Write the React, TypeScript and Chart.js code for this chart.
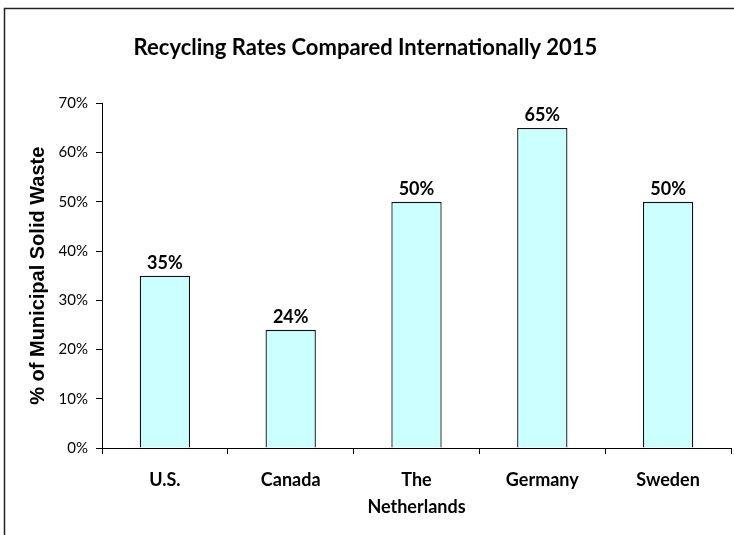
import React, { useEffect, useRef } from "react";
import { Chart, registerables } from "chart.js";

Chart.register(...registerables);

const chartTitle = "Recycling Rates Compared Internationally 2015";
const yAxisTitle = "% of Municipal Solid Waste";
const categories: (string | string[])[] = ["U.S.", "Canada", ["The", "Netherlands"], "Germany", "Sweden"];
const recyclingRates = [35, 24, 50, 65, 50];
const yMin = 0;
const yMax = 70;
const yStep = 10;

const framePlugin = {
  id: "frame",
  beforeDraw(chart: any) {
    const ctx = chart.ctx;
    ctx.save();
    ctx.fillStyle = "#ffffff";
    ctx.fillRect(0, 0, chart.width, chart.height);
    ctx.strokeStyle = "#222222";
    ctx.lineWidth = 1.5;
    ctx.strokeRect(4.5, 8.5, chart.width + 20, chart.height + 20);
    ctx.restore();
  },
};

const valueLabelPlugin = {
  id: "valueLabels",
  afterDatasetsDraw(chart: any) {
    const ctx = chart.ctx;
    const meta = chart.getDatasetMeta(0);
    const data = chart.data.datasets[0].data as number[];
    ctx.save();
    ctx.font = "bold 18px Lato";
    ctx.fillStyle = "#000000";
    ctx.textAlign = "center";
    ctx.textBaseline = "bottom";
    meta.data.forEach((bar: any, i: number) => {
      ctx.fillText(`${data[i]}%`, bar.x, bar.y - 4);
    });
    ctx.restore();
  },
};

export default function App() {
  const canvasRef = useRef<HTMLCanvasElement | null>(null);

  useEffect(() => {
    if (!canvasRef.current) return;
    const chart = new Chart(canvasRef.current, {
      type: "bar",
      data: {
        labels: categories as any,
        datasets: [
          {
            data: recyclingRates,
            backgroundColor: "#CCFFFF",
            borderColor: "#111111",
            borderWidth: 1.3,
            categoryPercentage: 1,
            barPercentage: 0.4,
          },
        ],
      },
      options: {
        responsive: false,
        animation: false,
        layout: { padding: { top: 0, left: 0, right: 3, bottom: 0 } },
        plugins: {
          legend: { display: false },
          tooltip: { enabled: false },
          title: {
            display: true,
            text: chartTitle,
            color: "#000000",
            font: { family: "Lato", size: 22, weight: "bold" },
            padding: { top: 35, bottom: 42 },
          },
        },
        scales: {
          x: {
            afterFit: (scale: any) => {
              scale.height = 87;
            },
            grid: {
              offset: true,
              drawOnChartArea: false,
              tickLength: 6,
              color: "#000000",
            },
            border: { color: "#000000", width: 1 },
            ticks: {
              color: "#000000",
              padding: 13,
              maxRotation: 0,
              autoSkip: false,
              font: { family: "Lato", size: 18, weight: "bold", lineHeight: 1.5 },
            },
          },
          y: {
            min: yMin,
            max: yMax,
            afterFit: (scale: any) => {
              scale.width = 102;
            },
            grid: {
              drawOnChartArea: false,
              tickLength: 6,
              color: "#000000",
            },
            border: { color: "#000000", width: 1 },
            ticks: {
              stepSize: yStep,
              color: "#000000",
              padding: 8,
              font: { family: "Lato", size: 15 },
              callback: (v: any) => `${v}%`,
            },
            title: {
              display: true,
              text: yAxisTitle,
              color: "#000000",
              font: { family: "Liberation Sans", size: 20, weight: "bold" },
              padding: { top: 26, bottom: 0 },
            },
          },
        },
      },
      plugins: [framePlugin, valueLabelPlugin],
    });
    return () => chart.destroy();
  }, []);

  return (
    <div style={{ position: "fixed", left: 0, top: 0, width: 734, height: 535, background: "#fff" }}>
      <canvas ref={canvasRef} width={734} height={535} style={{ display: "block" }} />
    </div>
  );
}
